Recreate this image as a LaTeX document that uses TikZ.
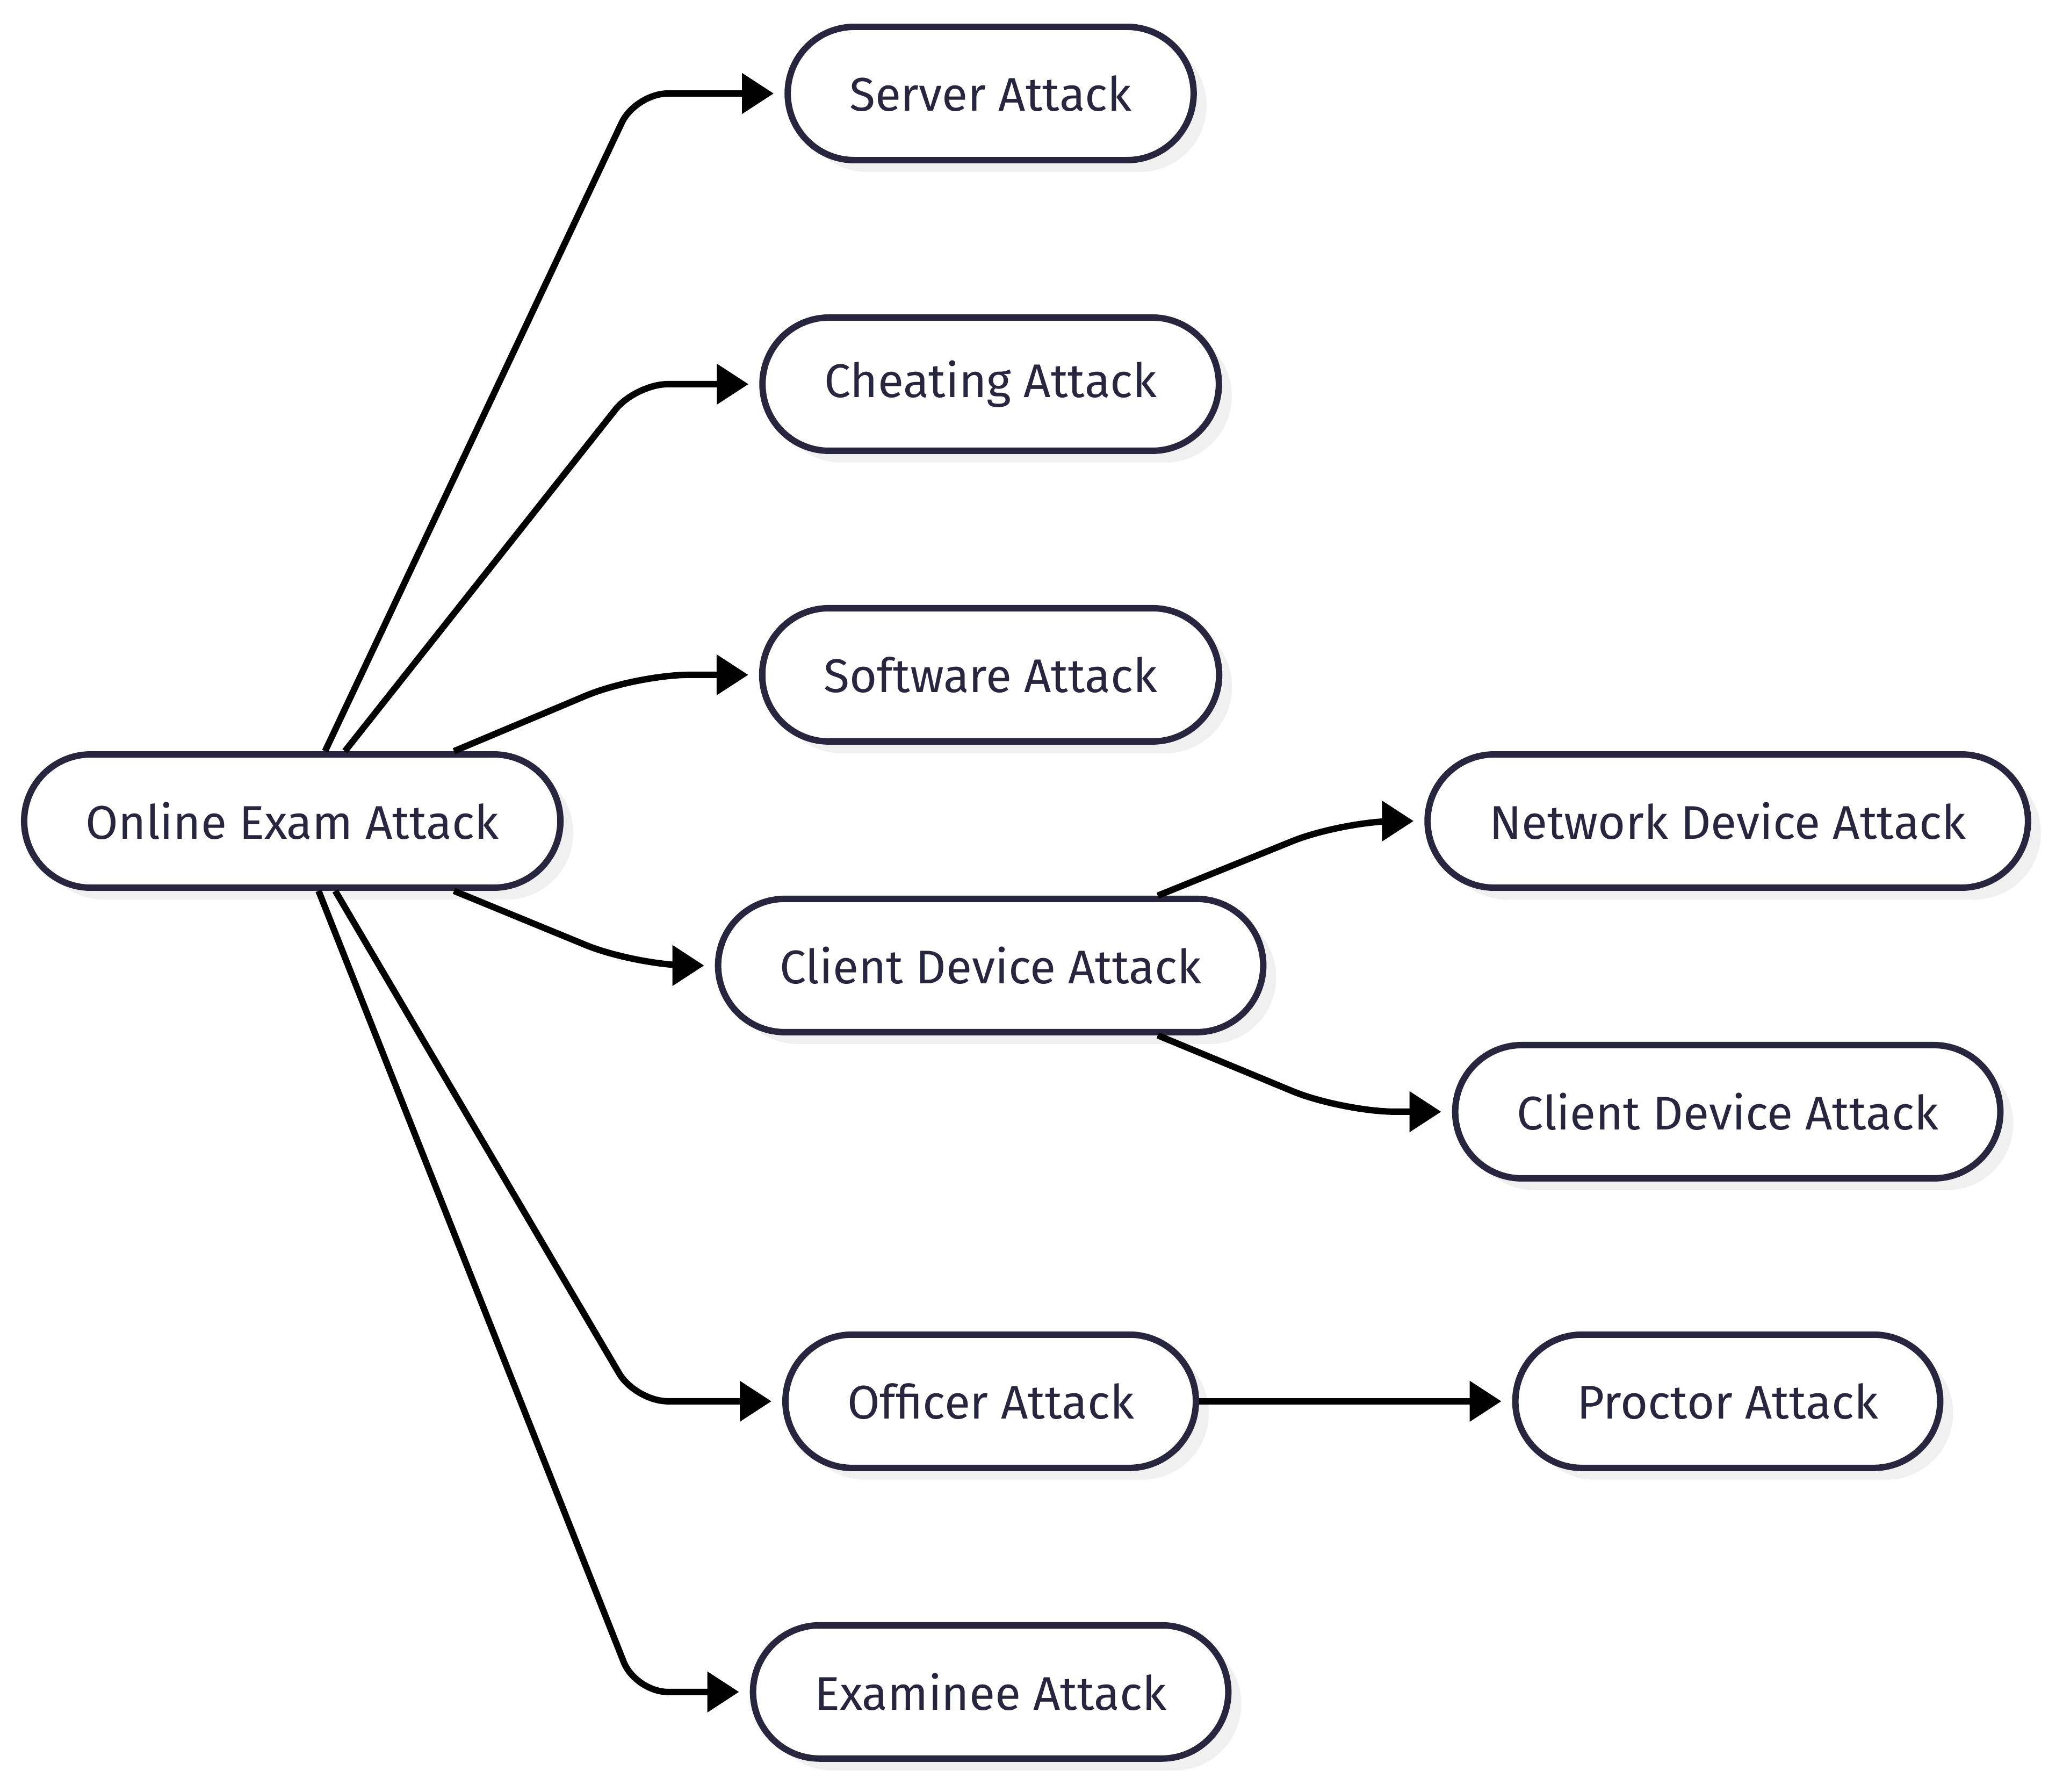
\documentclass[tikz,border=0pt]{standalone}
\usepackage{fontspec}
\setmainfont{Fira Sans}
\usetikzlibrary{arrows.meta, positioning, shadows}
\definecolor{ink}{RGB}{40,38,62}

\begin{document}
\begin{tikzpicture}[
  box/.style={draw=ink, fill=white, text=ink, line width=3.4pt, rectangle,
              rounded corners=1.24cm, minimum height=2.48cm, inner xsep=1.15cm,
              font=\fontsize{25}{29}\selectfont,
              drop shadow={shadow xshift=0.24cm, shadow yshift=-0.22cm,
                           fill=black!6, opacity=1}},
  link/.style={-{Triangle[length=0.59cm, width=0.73cm]}, line width=3.4pt,
               shorten >=0.2cm, rounded corners=0.6cm},
  node distance=2.81cm
]
\useasboundingbox (0,0) rectangle (38.4,-33.35);

\node[box] (exam) at (5.44,-15.28) {Online Exam Attack};

\node[box] (server) at (18.44,-1.74) {Server Attack};
\node[box, below=of server] (cheating) {Cheating Attack};
\node[box, below=of cheating] (software) {Software Attack};
\node[box, below=of software] (client) {Client Device Attack};
\node[box, below=5.51cm of client] (officer) {Officer Attack};
\node[box, below=of officer] (examinee) {Examinee Attack};

\node[box] (network) at (32.16,-15.28) {Network Device Attack};
\node[box, below=of network] (clientdev) {Client Device Attack};
\node[box] (proctor) at (network |- officer) {Proctor Attack};

% bends of the connectors
\coordinate (lbend) at (11.83,0);
\coordinate (rbend) at (24.98,0);

\draw[link] ([xshift=0.61cm]exam.north) -- (lbend |- server) -- (server);
\draw[link] ([xshift=0.98cm]exam.north) -- (lbend |- cheating) -- (cheating);
\draw[link, rounded corners=1cm] ([xshift=3.01cm]exam.north) -- (lbend |- software) -- (software);
\draw[link, rounded corners=1cm] ([xshift=3.01cm]exam.south) -- (lbend |- client) -- (client);
\draw[link] ([xshift=0.8cm]exam.south) -- (lbend |- officer) -- (officer);
\draw[link] ([xshift=0.49cm]exam.south) -- (lbend |- examinee) -- (examinee);

\draw[link, rounded corners=1cm] ([xshift=3.11cm]client.north) -- (rbend |- network) -- (network);
\draw[link, rounded corners=1cm] ([xshift=3.11cm]client.south) -- (rbend |- clientdev) -- (clientdev);
\draw[link] (officer) -- (proctor);
\end{tikzpicture}
\end{document}
